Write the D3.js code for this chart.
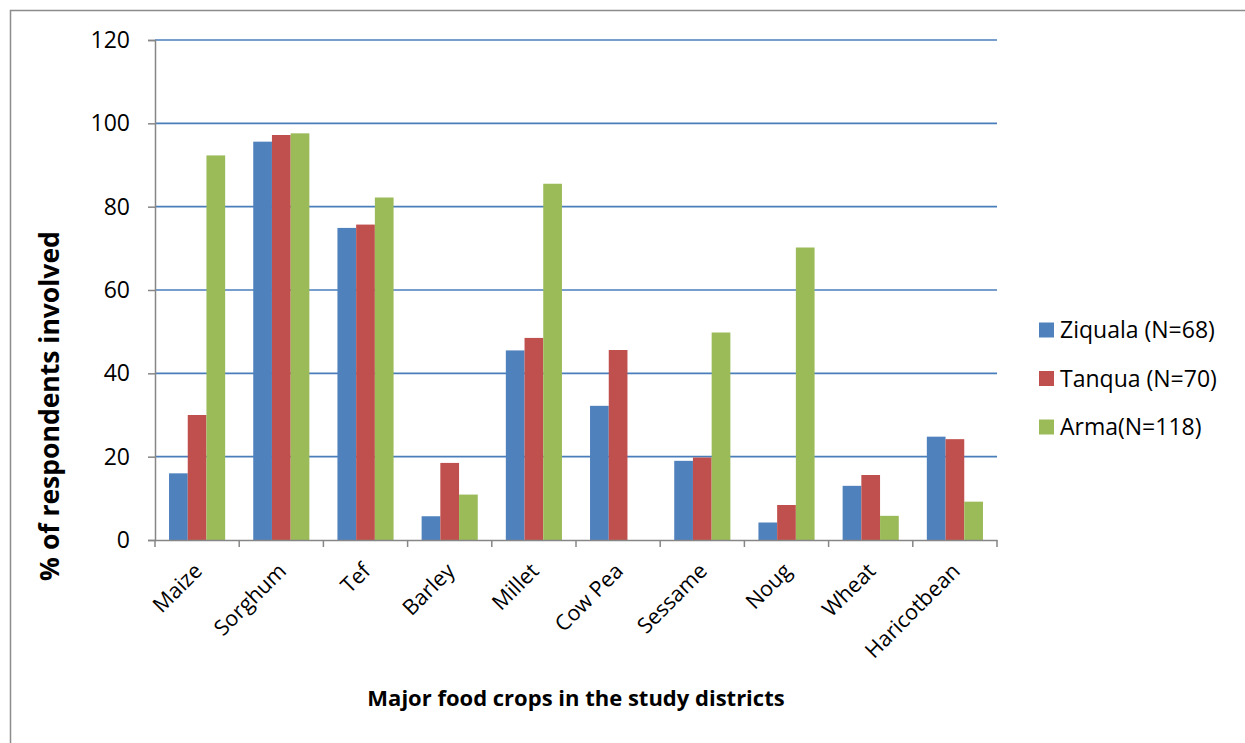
<!DOCTYPE html>
<html><head><meta charset="utf-8">
<script src="https://cdn.jsdelivr.net/npm/d3@7"></script>
<style>body{margin:0;background:#fff;} svg{display:block;font-family:"Open Sans",sans-serif;}</style>
</head><body>
<script>
const categories = ["Maize","Sorghum","Tef","Barley","Millet","Cow Pea","Sessame","Noug","Wheat","Haricotbean"];
const seriesNames = ["Ziquala (N=68)","Tanqua (N=70)","Arma(N=118)"];
const ziquala = [16.0, 95.6, 74.9, 5.7, 45.5, 32.2, 19.0, 4.2, 13.0, 24.8];
const tanqua  = [30.0, 97.2, 75.7, 18.5, 48.5, 45.6, 19.8, 8.4, 15.6, 24.2];
const arma    = [92.3, 97.6, 82.2, 10.9, 85.5, 0, 49.8, 70.2, 5.8, 9.2];
const yTicks = [0,20,40,60,80,100,120];
const colors = ["#4f81bd","#c0504d","#9bbb59"];
const series = [ziquala, tanqua, arma];

(function(){
const W = 1245, H = 743;
const svg = d3.select("body").append("svg").attr("width", W).attr("height", H);

svg.append("path").attr("d", `M10.5,${H} L10.5,10.5 L${W},10.5`).attr("fill","none").attr("stroke","#8c8c8c").attr("stroke-width",1.5);

const pL = 155, pR = 997, pT = 40, pB = 540;
const x = d3.scaleBand().domain(categories).range([pL, pR]).paddingInner(0).paddingOuter(0);
const y = d3.scaleLinear().domain([0,120]).range([pB, pT]);

svg.append("g").selectAll("line").data(yTicks.filter(d=>d>0)).join("line")
  .attr("x1", pL).attr("x2", pR).attr("y1", d=>y(d)).attr("y2", d=>y(d))
  .attr("stroke","#4a7ebb").attr("stroke-width",1.6);

const bw = x.bandwidth()/4.5;
const g = svg.append("g");
series.forEach((s,si)=>{
  g.selectAll(".b"+si).data(s).join("rect").attr("class","b"+si)
    .attr("x",(d,i)=>x(categories[i]) + 0.75*bw + si*bw)
    .attr("y",d=>y(d)).attr("width",bw).attr("height",d=>y(0)-y(d))
    .attr("fill",colors[si]);
});

const ya = svg.append("g").attr("transform",`translate(${pL},0)`)
  .call(d3.axisLeft(y).tickValues(yTicks).tickSize(7).tickPadding(18));
ya.select(".domain").attr("stroke","#868686").attr("stroke-width",1.5);
ya.selectAll(".tick line").attr("stroke","#868686").attr("stroke-width",1.5);
ya.selectAll(".tick text").attr("font-size",23).attr("fill","#000").attr("font-family","Open Sans");

const xa = svg.append("g").attr("transform",`translate(0,${pB})`)
  .call(d3.axisBottom(x).tickSize(0).tickFormat(""));
xa.select(".domain").attr("stroke","#868686").attr("stroke-width",1.5);
const bounds = categories.map(c=>x(c)).concat([pR]);
xa.selectAll(".bt").data(bounds).join("line").attr("class","bt")
  .attr("x1",d=>d).attr("x2",d=>d).attr("y1",0).attr("y2",7)
  .attr("stroke","#868686").attr("stroke-width",1.5);
xa.selectAll(".cl").data(categories).join("text").attr("class","cl")
  .attr("transform",d=>`translate(${x(d)+x.bandwidth()/2+1},${27}) rotate(-45)`)
  .attr("text-anchor","end").attr("dy","0.35em")
  .attr("font-size",21.5).attr("fill","#000").attr("font-family","Open Sans").text(d=>d);

svg.append("text").attr("transform",`translate(50,406) rotate(-90)`)
  .attr("text-anchor","middle").attr("dy","0.35em")
  .attr("font-size",26.5).attr("font-weight","bold").attr("fill","#000")
  .text("% of respondents involved");
svg.append("text").attr("x",576).attr("y",706).attr("text-anchor","middle")
  .attr("font-size",22).attr("font-weight","bold").attr("fill","#000")
  .text("Major food crops in the study districts");

const lg = svg.append("g");
seriesNames.forEach((n,i)=>{
  const ly = 330 + i*48.5;
  lg.append("rect").attr("x",1039).attr("y",ly-7.5).attr("width",15).attr("height",15).attr("fill",colors[i]);
  lg.append("text").attr("x",1060).attr("y",ly).attr("dy","0.35em").attr("font-size",23).attr("fill","#000").text(n);
});
})();
</script>
</body></html>
